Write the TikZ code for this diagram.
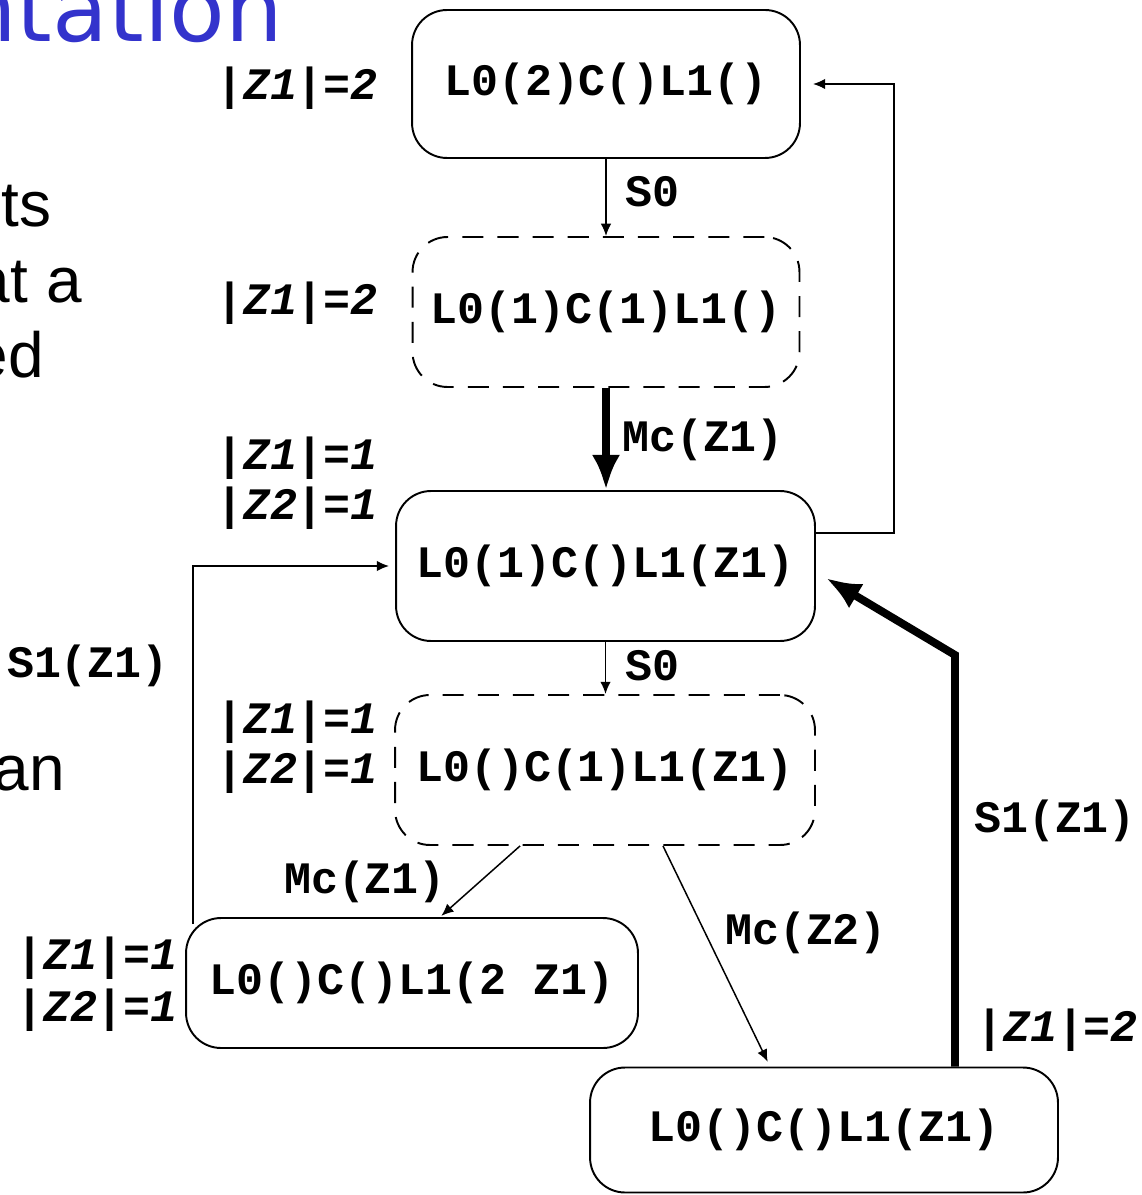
\documentclass[tikz,border=0pt]{standalone}
\usepackage{fontspec}
\setmainfont{Liberation Sans}
\setmonofont{Liberation Mono}
\newfontfamily\titlefont{DejaVu Sans}
\usetikzlibrary{arrows.meta}
\definecolor{titleblue}{RGB}{51,51,204}
\tikzset{
  box/.style={draw, line width=1.1pt, rounded corners=0.7cm, inner sep=0pt,
    font=\ttfamily\bfseries\fontsize{25.6}{30}\selectfont},
  dbox/.style={box, dash pattern=on 12pt off 8pt},
  cnt/.style={font=\ttfamily\bfseries\itshape\fontsize{25.6}{30}\selectfont, inner sep=0pt},
  lbl/.style={font=\ttfamily\bfseries\fontsize{25.6}{30}\selectfont, inner sep=0pt},
  slide/.style={font=\fontsize{36.4}{40}\selectfont, inner sep=0pt, anchor=base east},
  tarrow/.style={line width=0.85pt, -{Latex[length=7pt,width=6pt]}},
  karrow/.style={line width=4.5pt, -{Latex[length=20pt,width=16pt]}},
  tline/.style={line width=0.85pt},
}
\begin{document}
\begin{tikzpicture}[x=0.02cm,y=-0.02cm]
\useasboundingbox (0,0) rectangle (1141,1195);
\fill[white] (0,0) rectangle (1141,1195);

% slide text fragments
\node[slide, font=\titlefont\fontsize{51.8}{56}\selectfont, text=titleblue] (title) at (283,42) {ntation};
\node[slide] (t1) at (52,227) {ts};
\node[slide] (t2) at (82,303) {at a};
\node[slide] (t3) at (44,378) {ed};
\node[slide] (t4) at (65,790) {an};

% states
\node[box, minimum width=7.76cm, minimum height=2.96cm] (A) at (606,84) {L0(2)C()L1()};
\node[dbox, minimum width=7.74cm, minimum height=3.0cm] (B) at (606,312) {L0(1)C(1)L1()};
\node[box, minimum width=8.38cm, minimum height=3.0cm] (C) at (605.5,566) {L0(1)C()L1(Z1)};
\node[dbox, minimum width=8.4cm, minimum height=3.0cm] (D) at (605,770) {L0()C(1)L1(Z1)};
\node[box, minimum width=9.04cm, minimum height=2.6cm] (E) at (412,983) {L0()C()L1(2 Z1)};
\node[box, minimum width=9.36cm, minimum height=2.5cm] (F) at (824,1130) {L0()C()L1(Z1)};

% counters
\node[cnt] (nA) at (297,88) {|Z1|=2};
\node[cnt] (nB) at (297,303) {|Z1|=2};
\node[cnt] (nC1) at (297,458) {|Z1|=1};
\node[cnt] (nC2) at (297,508) {|Z2|=1};
\node[cnt] (nD1) at (297,722) {|Z1|=1};
\node[cnt] (nD2) at (297,772) {|Z2|=1};
\node[cnt] (nE1) at (97,958) {|Z1|=1};
\node[cnt] (nE2) at (97,1010) {|Z2|=1};
\node[cnt] (nF) at (1057,1030) {|Z1|=2};

% transition labels
\node[lbl] (s0a) at (652,192) {S0};
\node[lbl] (s0b) at (652,666) {S0};
\node[lbl] (mc1) at (703,440) {Mc(Z1)};
\node[lbl] (mc2) at (365,882) {Mc(Z1)};
\node[lbl] (mc3) at (806,933) {Mc(Z2)};
\node[lbl] (s1a) at (88,666) {S1(Z1)};
\node[lbl] (s1b) at (1055,821) {S1(Z1)};

% connectors
\draw[tarrow] (A.south) -- (A.south |- B.north);
\draw[karrow] (B.south) -- (B.south |- C.north);
\draw[tarrow] ([yshift=0.66cm]C.east) -- ++(78,0) |- ([xshift=0.24cm]A.east);
\draw[tarrow] (C.south) -- (C.south |- D.north);
\draw[tarrow, shorten >=1pt] ([xshift=-1.7cm]D.south) -- ([xshift=0.56cm]E.north);
\draw[tarrow, shorten >=3pt] ([xshift=1.16cm]D.south) -- ([xshift=-1.08cm]F.north);
\coordinate (fcb) at (955,655);
\draw[karrow, line join=miter] ([xshift=2.62cm]F.north) -- (fcb) -- ([xshift=0.2cm,yshift=-0.24cm]C.east);
\draw[tarrow] ([xshift=-4.38cm,yshift=-0.14cm]E.north) |- ([xshift=-0.12cm]C.west);
\end{tikzpicture}
\end{document}
